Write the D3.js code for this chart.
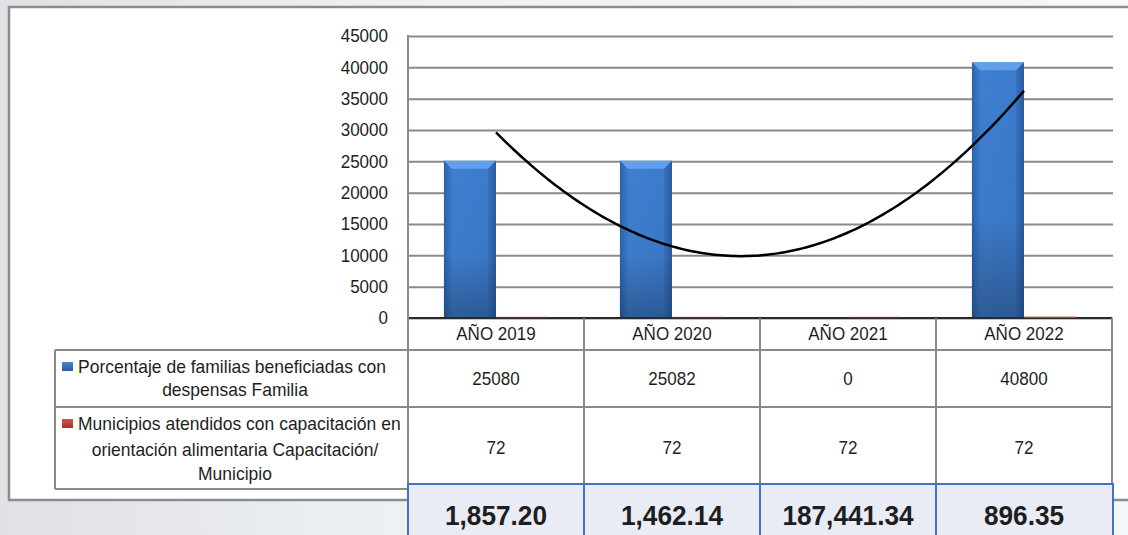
<!DOCTYPE html>
<html>
<head>
<meta charset="utf-8">
<script src="https://cdn.jsdelivr.net/npm/d3@7"></script>
<style>
html,body{margin:0;padding:0;overflow:hidden;background:#fff;}
text{font-family:"Liberation Sans",Arial,sans-serif;fill:#1e1e1e;}
</style>
</head>
<body>
<svg id="chart" width="1128" height="535"></svg>
<script>
// ---- data ----
const categories = ["AÑO 2019", "AÑO 2020", "AÑO 2021", "AÑO 2022"];
const seriesNames = [
  ["Porcentaje de familias beneficiadas con", "despensas Familia"],
  ["Municipios atendidos con capacitación en", "orientación alimentaria Capacitación/", "Municipio"]
];
const familias = [25080, 25082, 0, 40800];
const municipios = [72, 72, 72, 72];
const yTicks = [0, 5000, 10000, 15000, 20000, 25000, 30000, 35000, 40000, 45000];
const bottomValues = ["1,857.20", "1,462.14", "187,441.34", "896.35"];

const svg = d3.select("#chart");
const defs = svg.append("defs");

function condense(sel, k){
  sel.each(function(){
    const len = this.getComputedTextLength();
    d3.select(this).attr("textLength", len*k).attr("lengthAdjust","spacingAndGlyphs");
  });
}

// background gradient
const bg = defs.append("linearGradient").attr("id","bg").attr("x1","0").attr("x2","1").attr("y1","0").attr("y2","0");
bg.append("stop").attr("offset","0").attr("stop-color","#dfe1e4");
bg.append("stop").attr("offset","0.35").attr("stop-color","#eef1f4");
bg.append("stop").attr("offset","1").attr("stop-color","#f5f8fb");
svg.append("rect").attr("width",1128).attr("height",535).attr("fill","url(#bg)");

// white panel
svg.append("rect").attr("x",9).attr("y",7).attr("width",1140).attr("height",493)
  .attr("fill","#fff").attr("stroke","#8c8c8c").attr("stroke-width",2.5);

// bar gradients
const gH = defs.append("linearGradient").attr("id","barH").attr("x1","0").attr("x2","1").attr("y1","0").attr("y2","0");
gH.append("stop").attr("offset","0").attr("stop-color","#2f66ad");
gH.append("stop").attr("offset","0.12").attr("stop-color","#3f7fd0");
gH.append("stop").attr("offset","0.85").attr("stop-color","#3c7bcc");
gH.append("stop").attr("offset","1").attr("stop-color","#2c5fa3");
const gV = defs.append("linearGradient").attr("id","barV").attr("x1","0").attr("x2","0").attr("y1","0").attr("y2","1");
gV.append("stop").attr("offset","0").attr("stop-color","#000").attr("stop-opacity",0);
gV.append("stop").attr("offset","0.6").attr("stop-color","#000").attr("stop-opacity",0.03);
gV.append("stop").attr("offset","1").attr("stop-color","#000").attr("stop-opacity",0.28);

// scales
const plotLeft = 408, plotRight = 1112, plotTop = 36, plotBottom = 318;
const y = d3.scaleLinear().domain([0,45000]).range([plotBottom, plotTop]);
const x = d3.scaleBand().domain(categories).range([plotLeft, plotRight]).padding(0);
const xs = d3.scaleBand().domain([0,1]).range([0, x.bandwidth()]).paddingInner(0).paddingOuter(0.69);

const gridColor = "#8a8a8a";
const FS = 18.5, K = 0.92;

// gridlines + tick labels
const yAxis = d3.axisLeft(y).tickValues(yTicks).tickSize(-(plotRight - plotLeft + 1)).tickPadding(20).tickFormat(d3.format("d"));
const ga = svg.append("g").attr("transform",`translate(${plotLeft},0)`).call(yAxis);
ga.select(".domain").remove();
ga.selectAll(".tick line").attr("stroke",gridColor).attr("stroke-width",2);
ga.selectAll(".tick text").attr("font-size",FS).attr("font-family","Liberation Sans, Arial, sans-serif").attr("fill","#1e1e1e").call(condense, K);

// bars: familias
const bw = xs.bandwidth();
svg.append("g").selectAll("g").data(familias).join("g").each(function(v,i){
  const g = d3.select(this);
  const bx = x(categories[i]) + xs(0);
  const by = y(v), bh = y(0) - y(v);
  if (bh <= 0) return;
  g.append("rect").attr("x",bx).attr("y",by).attr("width",bw).attr("height",bh).attr("fill","url(#barH)");
  g.append("rect").attr("x",bx).attr("y",by).attr("width",bw).attr("height",bh).attr("fill","url(#barV)");
  const bev = 8;
  g.append("path").attr("d",`M${bx},${by}L${bx+bw},${by}L${bx+bw-bev},${by+bev}L${bx+bev},${by+bev}Z`).attr("fill","#6aa6ec").attr("opacity",0.85);
  g.append("path").attr("d",`M${bx},${by}L${bx+bev},${by+bev}L${bx+bev},${by+bh}L${bx},${by+bh}Z`).attr("fill","#1d4e8f").attr("opacity",0.15);
  g.append("path").attr("d",`M${bx+bw},${by}L${bx+bw-bev},${by+bev}L${bx+bw-bev},${by+bh}L${bx+bw},${by+bh}Z`).attr("fill","#1d4e8f").attr("opacity",0.2);
});

// baseline
svg.append("line").attr("x1",plotLeft).attr("x2",plotRight).attr("y1",plotBottom).attr("y2",plotBottom)
  .attr("stroke","#2a2a2a").attr("stroke-width",2);

// bars: municipios
svg.append("g").selectAll("rect").data(municipios).join("rect")
  .attr("x",(d,i)=>x(categories[i]) + xs(1))
  .attr("width",bw)
  .attr("y",d=>Math.min(y(d), plotBottom-1.5))
  .attr("height",d=>Math.max(y(0)-y(d),1.5))
  .attr("fill","#c0504d").attr("opacity",(d,i)=> i===3 ? 0.8 : 0.25);

// polynomial (order 2) trendline of familias, least squares
(function(){
  const n = familias.length;
  const xsV = familias.map((_,i)=>i+1);
  let S=[0,0,0,0,0], T=[0,0,0];
  for(let i=0;i<n;i++){
    const t=xsV[i], v=familias[i];
    for(let k=0;k<5;k++) S[k]+=Math.pow(t,k);
    for(let k=0;k<3;k++) T[k]+=v*Math.pow(t,k);
  }
  const A=[[S[0],S[1],S[2],T[0]],[S[1],S[2],S[3],T[1]],[S[2],S[3],S[4],T[2]]];
  for(let c=0;c<3;c++){
    for(let r=c+1;r<3;r++){const f=A[r][c]/A[c][c];for(let k=c;k<4;k++)A[r][k]-=f*A[c][k];}
  }
  const coef=[0,0,0];
  for(let r=2;r>=0;r--){let s=A[r][3];for(let k=r+1;k<3;k++)s-=A[r][k]*coef[k];coef[r]=s/A[r][r];}
  const f = t => coef[0]+coef[1]*t+coef[2]*t*t;
  const tx = d3.scaleLinear().domain([1,n]).range([x(categories[0])+x.bandwidth()/2, x(categories[n-1])+x.bandwidth()/2]);
  const pts = d3.range(1, n+0.001, 0.02).map(t=>[tx(t), y(f(t))]);
  svg.append("path").attr("d",d3.line()(pts)).attr("fill","none").attr("stroke","#000").attr("stroke-width",2.5);
})();

// table grid
const tbl = svg.append("g").attr("stroke",gridColor).attr("stroke-width",2);
const legLeft = 55, hdrBottom = 350, row1Bottom = 407, row2Bottom = 489;
tbl.append("line").attr("x1",plotLeft).attr("x2",plotLeft).attr("y1",plotTop-1).attr("y2",row2Bottom);
categories.forEach(c=>{
  tbl.append("line").attr("x1",x(c)+x.bandwidth()).attr("x2",x(c)+x.bandwidth()).attr("y1",plotBottom).attr("y2",row2Bottom);
});
[hdrBottom,row1Bottom,row2Bottom].forEach(yy=>{
  tbl.append("line").attr("x1",legLeft).attr("x2",plotRight+1).attr("y1",yy).attr("y2",yy);
});
tbl.append("line").attr("x1",legLeft).attr("x2",legLeft).attr("y1",hdrBottom).attr("y2",row2Bottom);

// header labels
svg.append("g").selectAll("text").data(categories).join("text")
  .attr("x",d=>x(d)+x.bandwidth()/2).attr("y",340).attr("text-anchor","middle").attr("font-size",FS).text(d=>d).call(condense, K);

// table values
svg.append("g").selectAll("text").data(familias).join("text")
  .attr("x",(d,i)=>x(categories[i])+x.bandwidth()/2).attr("y",385).attr("text-anchor","middle").attr("font-size",FS).text(d=>d).call(condense, K);
svg.append("g").selectAll("text").data(municipios).join("text")
  .attr("x",(d,i)=>x(categories[i])+x.bandwidth()/2).attr("y",454).attr("text-anchor","middle").attr("font-size",FS).text(d=>d).call(condense, K);

// legend cells
const keyCols = [["#4a86d0","#2c5c9e"],["#d9534f","#a3302d"]];
keyCols.forEach((kc,i)=>{
  const gid="key"+i;
  const kg = defs.append("linearGradient").attr("id",gid).attr("x1","0").attr("x2","0").attr("y1","0").attr("y2","1");
  kg.append("stop").attr("offset","0").attr("stop-color",kc[0]);
  kg.append("stop").attr("offset","1").attr("stop-color",kc[1]);
});
const legLines = [
  {lines: seriesNames[0], ys:[373,396]},
  {lines: seriesNames[1], ys:[430,456,480]}
];
legLines.forEach((L,i)=>{
  svg.append("rect").attr("x",62).attr("y",L.ys[0]-11).attr("width",11).attr("height",9).attr("fill",`url(#key${i})`);
  L.lines.forEach((t,j)=>{
    const tx = svg.append("text").attr("y",L.ys[j]).attr("font-size",FS+0.5).text(t);
    if(j===0) tx.attr("x",78).attr("text-anchor","start");
    else tx.attr("x",235).attr("text-anchor","middle");
    tx.call(condense, K);
  });
});

// bottom blue row
const bot = svg.append("g");
bot.append("rect").attr("x",plotLeft).attr("y",484).attr("width",plotRight-plotLeft+1).attr("height",70)
  .attr("fill","#e9ebf5").attr("stroke","#4472c4").attr("stroke-width",2);
categories.slice(0,3).forEach(c=>{
  bot.append("line").attr("x1",x(c)+x.bandwidth()).attr("x2",x(c)+x.bandwidth()).attr("y1",484).attr("y2",535)
    .attr("stroke","#4472c4").attr("stroke-width",2);
});
bot.selectAll("text").data(bottomValues).join("text")
  .attr("x",(d,i)=>x(categories[i])+x.bandwidth()/2).attr("y",525).attr("text-anchor","middle")
  .attr("font-size",28.5).attr("font-weight","bold").attr("fill","#111").text(d=>d).call(condense, 0.92);
</script>
</body>
</html>
